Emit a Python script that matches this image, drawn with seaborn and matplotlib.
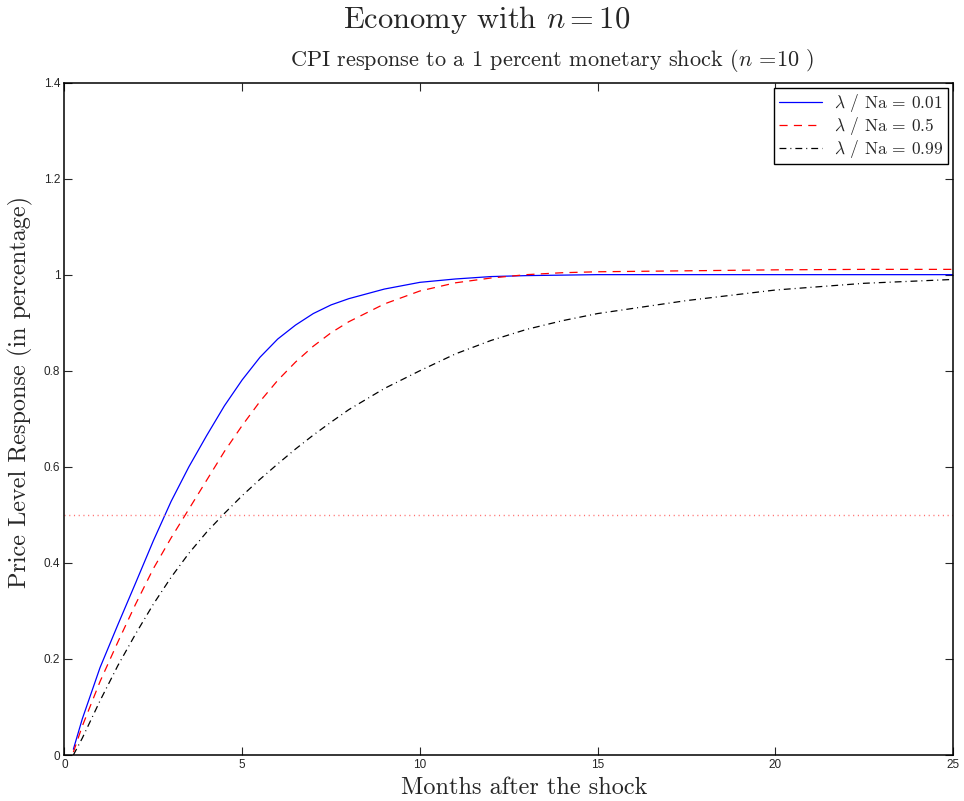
import pandas as pd
import seaborn as sns
import matplotlib.pyplot as plt

## CPI impulse responses, economy with n = 10

# months after the shock (same grid for the three series)
months = [0.25, 0.5, 1.0, 1.5, 2.0, 2.5, 3.0, 3.5, 4.0, 4.5, 5.0, 5.5, 6.0, 6.5,
          7.0, 7.5, 8.0, 9.0, 10.0, 11.0, 12.0, 13.0, 14.0, 15.0, 17.5, 20.0,
          22.5, 25.0]

# lambda / Na = 0.01
resp_001 = [0.012, 0.075, 0.182, 0.271, 0.358, 0.446, 0.528, 0.600, 0.665, 0.727,
            0.781, 0.828, 0.866, 0.895, 0.919, 0.937, 0.950, 0.970, 0.984, 0.991,
            0.996, 0.998, 0.999, 1.000, 1.000, 1.000, 1.000, 1.000]

# lambda / Na = 0.5
resp_05 = [0.006, 0.060, 0.153, 0.235, 0.314, 0.388, 0.452, 0.512, 0.572, 0.632,
           0.686, 0.736, 0.780, 0.818, 0.851, 0.879, 0.902, 0.939, 0.966, 0.983,
           0.993, 1.000, 1.004, 1.006, 1.008, 1.010, 1.011, 1.011]

# lambda / Na = 0.99
resp_099 = [0.000, 0.035, 0.113, 0.186, 0.252, 0.314, 0.370, 0.420, 0.464, 0.503,
            0.540, 0.574, 0.606, 0.637, 0.666, 0.693, 0.719, 0.763, 0.800, 0.835,
            0.863, 0.886, 0.904, 0.919, 0.946, 0.968, 0.982, 0.990]

labels = [r"$\lambda$ / Na = 0.01", r"$\lambda$ / Na = 0.5", r"$\lambda$ / Na = 0.99"]
half_life = 0.5

df = pd.DataFrame({
    "months": months * 3,
    "response": resp_001 + resp_05 + resp_099,
    "series": [labels[0]] * len(months) + [labels[1]] * len(months) + [labels[2]] * len(months),
})

sns.set_style("ticks")
plt.rcParams["mathtext.fontset"] = "cm"
plt.rcParams["font.family"] = ["Liberation Sans", "DejaVu Sans"]

fig = plt.figure(figsize=(9.64, 8.01), dpi=100)
ax = fig.add_axes([0.0669, 0.0574, 0.9217, 0.8396])

styles = [("blue", "-"), ("red", (0, (6.5, 5))), ("black", (0, (5.5, 3.2, 0.8, 3.2)))]
for lab, (col, ls) in zip(labels, styles):
    sns.lineplot(data=df[df["series"] == lab], x="months", y="response",
                 color=col, linestyle=ls, linewidth=0.9, label=lab, ax=ax)

# half response reference line
ax.axhline(half_life, color="#ff7070", linestyle=(0, (0.8, 2.6)), linewidth=1.0)

ax.set_xlim(0, 25)
ax.set_ylim(0, 1.4)
ax.set_xticks([0, 5, 10, 15, 20, 25])
ax.set_yticks([0, 0.2, 0.4, 0.6, 0.8, 1.0, 1.2, 1.4])
ax.set_yticklabels(["0", "0.2", "0.4", "0.6", "0.8", "1", "1.2", "1.4"])
ax.tick_params(direction="in", length=6, width=0.8, labelsize=8.5,
               top=True, right=True, pad=3)
ax.set_xlabel("")
ax.set_ylabel("")
for sp in ax.spines.values():
    sp.set_visible(True)
    sp.set_linewidth(1.1)
    sp.set_color("black")

leg = ax.legend(loc="upper right", prop={"family": "cmr10", "size": 12.5},
                fancybox=False, edgecolor="black", framealpha=1,
                borderaxespad=0.3, handlelength=2.5, handletextpad=0.7,
                borderpad=0.25, labelspacing=0.05)
leg.get_frame().set_linewidth(1.0)

fig.text(487 / 964, 1 - 20 / 801, "Economy with $n = 10$", family="cmr10",
         fontsize=22, ha="center", va="center")
fig.text(552 / 964, 1 - 60 / 801,
         "CPI response to a 1 percent monetary shock ($n$ =10 )",
         family="cmr10", fontsize=16, ha="center", va="center")
fig.text(20 / 964, 1 - 392 / 801, "Price Level Response (in percentage)",
         family="cmr10", fontsize=17.5, rotation=90, ha="center", va="center")
fig.text(524 / 964, 1 - 788 / 801, "Months after the shock",
         family="cmr10", fontsize=17.5, ha="center", va="center")

fig.savefig("out.png", dpi=100)
